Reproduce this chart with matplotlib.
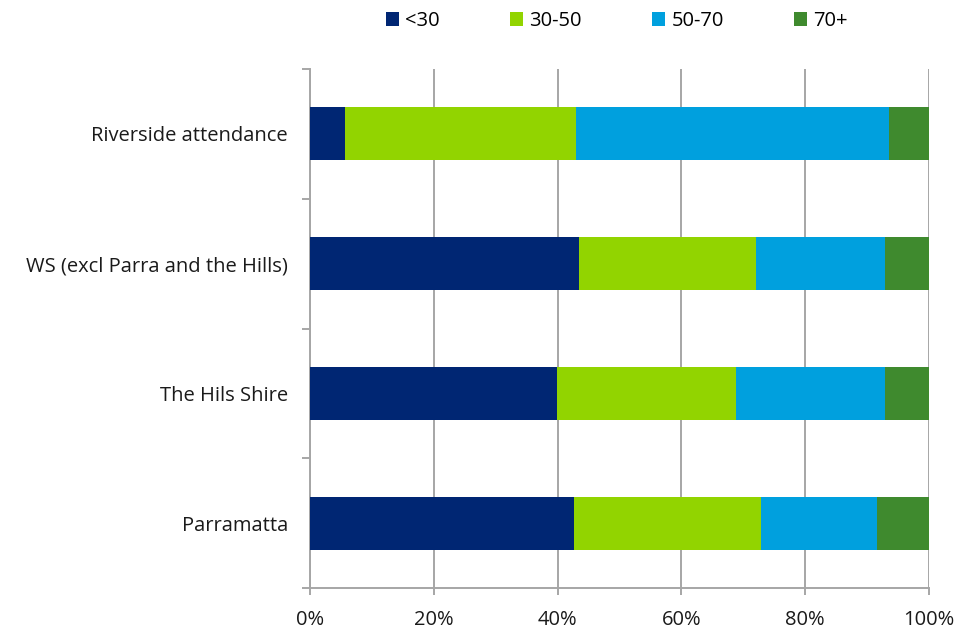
import matplotlib
matplotlib.use("Agg")
import matplotlib.pyplot as plt
import numpy as np
from matplotlib.ticker import FuncFormatter, FixedLocator

# Categories, top to bottom
categories = ["Riverside attendance", "WS (excl Parra and the Hills)", "The Hils Shire", "Parramatta"]

# Age group shares (%)
age_groups = ["<30", "30-50", "50-70", "70+"]
under_30 = [5.6, 43.5, 39.9, 42.6]
age_30_50 = [37.3, 28.5, 28.9, 30.3]
age_50_70 = [50.7, 20.9, 24.1, 18.7]
over_70 = [6.4, 7.1, 7.1, 8.4]

colors = ["#002673", "#92D400", "#00A0DE", "#3F8A2E"]

plt.rcParams["font.family"] = ["Open Sans", "DejaVu Sans"]
fs = 14.5
grey = "#A6A6A6"

fig = plt.figure(figsize=(9.6, 6.3), dpi=100)
ax = fig.add_axes([310 / 960, 1 - 588 / 630, 619 / 960, 519 / 630])

y = np.arange(len(categories))
left = np.zeros(len(categories))
for name, vals, col in zip(age_groups, [under_30, age_30_50, age_50_70, over_70], colors):
    ax.barh(y, vals, left=left, height=0.41, color=col, label=name, zorder=3)
    left += np.array(vals)

ax.set_xlim(0, 100)
ax.set_ylim(len(categories) - 0.5, -0.5)
ax.set_xticks(np.arange(0, 101, 20))
ax.xaxis.set_major_formatter(FuncFormatter(lambda v, _: f"{v:.0f}%"))
ax.grid(axis="x", color=grey, linewidth=1.4, zorder=0)

ax.set_yticks(y)
ax.set_yticklabels(categories)
ax.yaxis.set_minor_locator(FixedLocator(np.arange(-0.5, len(categories), 1)))
ax.tick_params(axis="y", which="major", length=0, pad=16, labelsize=fs, labelcolor="#1a1a1a")
ax.tick_params(axis="y", which="minor", length=6, color=grey, width=1.4)
ax.tick_params(axis="x", length=5, color=grey, width=1.4, pad=11, labelsize=fs, labelcolor="#1a1a1a")

for side in ["top", "right"]:
    ax.spines[side].set_visible(False)
for side in ["left", "bottom"]:
    ax.spines[side].set_color(grey)
    ax.spines[side].set_linewidth(1.4)

leg = fig.legend(loc="center", bbox_to_anchor=(617 / 960, 1 - 21 / 630), ncol=4, frameon=False,
                 fontsize=fs, handlelength=0.65, handleheight=0.65, handletextpad=0.3,
                 columnspacing=3.5)

fig.savefig("out.png", dpi=100)
